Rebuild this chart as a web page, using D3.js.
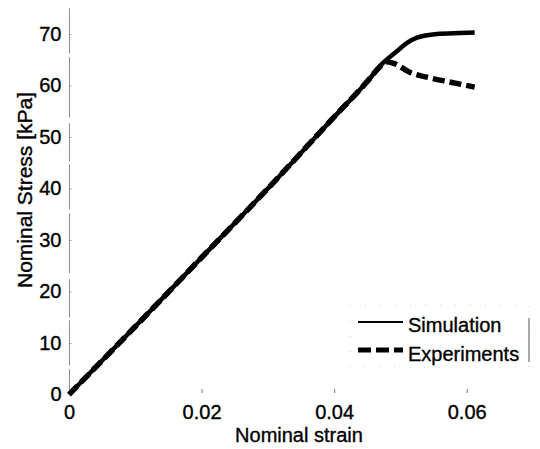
<!DOCTYPE html>
<html><head><meta charset="utf-8">
<script src="https://cdn.jsdelivr.net/npm/d3@7/dist/d3.min.js"></script>
<style>body{margin:0;background:#fff}svg{display:block}text{font-family:"Liberation Sans",Arial,sans-serif;fill:#000;stroke:#000;stroke-width:0.35px}</style>
</head><body>
<svg id="c" width="540" height="449"></svg>
<script>
const xTicks = [0, 0.02, 0.04, 0.06];
const xTickLabels = ["0", "0.02", "0.04", "0.06"];
const yTicks = [0, 10, 20, 30, 40, 50, 60, 70];
const yTickLabels = ["0", "10", "20", "30", "40", "50", "60", "70"];
const seriesNames = ["Simulation", "Experiments"];
const simStrain = [0, 0.01, 0.02, 0.03, 0.04, 0.045, 0.0473, 0.0494, 0.051, 0.0525, 0.0555, 0.059, 0.0612];
const simStress = [0, 13.2, 26.6, 40.0, 53.9, 60.8, 64.3, 66.6, 68.3, 69.3, 70.0, 70.2, 70.3];
const expStrain = [0, 0.01, 0.02, 0.03, 0.04, 0.045, 0.0468, 0.0478, 0.049, 0.0514, 0.0544, 0.0574, 0.0612];
const expStress = [0, 13.2, 26.6, 40.0, 53.9, 60.8, 63.5, 64.6, 64.3, 62.6, 61.5, 60.7, 59.7];

const svg = d3.select("#c");
const x = d3.scaleLinear().domain([0, 0.07]).range([69, 533]);
const y = d3.scaleLinear().domain([0, 75]).range([394.5, 8.3]);

// faint left axis
svg.append("line").attr("x1", 69.5).attr("x2", 69.5).attr("y1", y(75)).attr("y2", y(0))
  .attr("stroke", "#8c8c8c").attr("stroke-width", 1).attr("stroke-dasharray", "45,4,60,6,38,3");

// y ticks & labels
const yAxis = d3.axisLeft(y).tickValues(yTicks).tickFormat((d, i) => yTickLabels[i]).tickSize(-2).tickPadding(8);
const ga = svg.append("g").attr("transform", "translate(69.5,0)").call(yAxis);
ga.select(".domain").remove();
ga.selectAll(".tick line").attr("stroke", "#999");
ga.selectAll(".tick text").style("font-size", "20px").attr("font-family", "Liberation Sans, Arial, sans-serif").attr("fill", "#000");

// x ticks & labels
const xAxis = d3.axisBottom(x).tickValues(xTicks).tickFormat((d, i) => xTickLabels[i]).tickSize(-4).tickPadding(12);
const gx = svg.append("g").attr("transform", "translate(0,393)").call(xAxis);
gx.select(".domain").remove();
gx.selectAll(".tick line").attr("stroke", "#777").filter((d) => d === 0).remove();
gx.selectAll(".tick text").style("font-size", "20px").attr("font-family", "Liberation Sans, Arial, sans-serif").attr("fill", "#000");

// axis titles
svg.append("text").attr("x", 299).attr("y", 442).attr("text-anchor", "middle").style("font-size", "20px").text("Nominal strain");
svg.append("text").attr("transform", "translate(32,190) rotate(-90)").attr("text-anchor", "middle").style("font-size", "21px").text("Nominal Stress [kPa]");

const line = d3.line().x(d => x(d[0])).y(d => y(d[1])).curve(d3.curveMonotoneX);
const expData = expStrain.map((s, i) => [s, expStress[i]]);
const simData = simStrain.map((s, i) => [s, simStress[i]]);

svg.append("path").attr("d", line(expData)).attr("fill", "none").attr("stroke", "#000")
  .attr("stroke-width", 5.5).attr("stroke-dasharray", "12,5");
svg.append("path").attr("d", line(simData)).attr("fill", "none").attr("stroke", "#000")
  .attr("stroke-width", 4.5).attr("stroke-linejoin", "round");

// legend
const lg = svg.append("g");
lg.append("rect").attr("x", 350).attr("y", 305).attr("width", 179).attr("height", 62)
  .attr("fill", "none").attr("stroke", "#ccc").attr("stroke-width", 0.8).attr("stroke-dasharray", "1,14");
lg.append("line").attr("x1", 529).attr("x2", 529).attr("y1", 318).attr("y2", 362).attr("stroke", "#555").attr("stroke-width", 1);
lg.append("line").attr("x1", 358).attr("x2", 403).attr("y1", 322).attr("y2", 322).attr("stroke", "#000").attr("stroke-width", 2);
lg.append("line").attr("x1", 358).attr("x2", 403).attr("y1", 350).attr("y2", 350).attr("stroke", "#000").attr("stroke-width", 5).attr("stroke-dasharray", "13,5");
lg.append("text").attr("x", 408).attr("y", 332).style("font-size", "20px").text(seriesNames[0]);
lg.append("text").attr("x", 408).attr("y", 361).style("font-size", "20px").text(seriesNames[1]);
</script>
</body></html>
